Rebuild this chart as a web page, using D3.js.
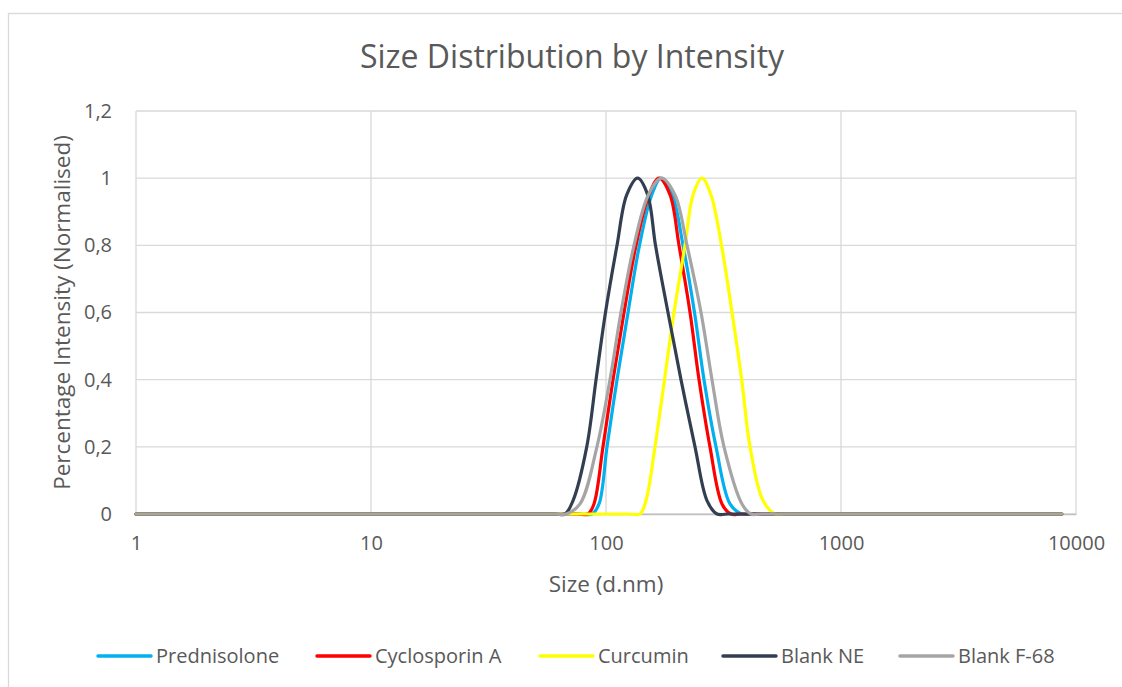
<!DOCTYPE html>
<html lang="en">
<head>
    <meta charset="UTF-8">
    <script src="https://d3js.org/d3.v7.min.js"></script>
    <title>Size Distribution by Intensity</title>
    <style>
        body { margin: 0; background: #fff; }
        text { font-family: "Open Sans", sans-serif; fill: #595959; }
    </style>
</head>
<body>
    <svg id="chart" width="1122" height="687"></svg>

    <script>
        // data: [size (d.nm), normalised intensity]
        const prednisolone = [[1,0],[78,0],[87.2,0],[93.4,0.03],[101,0.2],[111.4,0.4],[124.1,0.6],[138.8,0.8],[156.5,0.95],[171.4,1],
                              [191.5,0.95],[212.7,0.8],[238,0.6],[261.2,0.4],[293.9,0.2],[337.1,0.03],[379,0],[420,0],[8700,0]];
        const cyclosporinA = [[1,0],[75,0],[83.8,0],[88.9,0.03],[97.1,0.2],[107.1,0.4],[119.3,0.6],[134.2,0.8],[152.4,0.95],[168.1,1],
                              [187.3,0.95],[204.5,0.8],[227.8,0.6],[248.8,0.4],[277,0.2],[311.6,0.03],[340.4,0],[380,0],[8700,0]];
        const curcumin     = [[1,0],[125,0],[139.5,0],[148,0.04],[161.6,0.2],[177.4,0.4],[194.7,0.6],[216.9,0.8],[234.6,0.95],[256.2,1],
                              [279.8,0.95],[310.1,0.8],[343.8,0.6],[378,0.4],[410.1,0.2],[465.7,0.04],[523.8,0],[580,0],[8700,0]];
        const blankNE      = [[1,0],[60,0],[66.9,0],[72.4,0.04],[82.8,0.2],[90.7,0.4],[99.5,0.6],[111.4,0.8],[122.5,0.95],[136.4,1],
                              [150.5,0.95],[162.4,0.8],[183.6,0.6],[208.5,0.4],[239.2,0.2],[269,0.04],[296.8,0],[330,0],[8700,0]];
        const blankF68     = [[1,0],[60,0],[67.6,0],[77.5,0.03],[91.5,0.2],[104,0.4],[115.8,0.6],[131.6,0.8],[151.4,0.95],[172.3,1],
                              [196.6,0.95],[221.2,0.8],[253.7,0.6],[282.5,0.4],[317.8,0.2],[379,0.03],[414,0],[460,0],[8700,0]];

        const seriesNames  = ["Prednisolone", "Cyclosporin A", "Curcumin", "Blank NE", "Blank F-68"];
        const seriesColors = ["#00B0F0", "#FF0000", "#FFFF00", "#333F50", "#A5A5A5"];
        const seriesData   = [prednisolone, cyclosporinA, curcumin, blankNE, blankF68];

        const xTicks = [1, 10, 100, 1000, 10000];
        const yTicks = [0, 0.2, 0.4, 0.6, 0.8, 1, 1.2];

        const svg = d3.select("svg#chart");
        const margin = {top: 111, right: 46, bottom: 173, left: 136};
        const width = +svg.attr("width") - margin.left - margin.right;
        const height = +svg.attr("height") - margin.top - margin.bottom;

        // chart frame
        svg.append("rect")
            .attr("x", 8.5).attr("y", 13.5)
            .attr("width", 1130).attr("height", 700)
            .attr("fill", "#fff")
            .attr("stroke", "#d9d9d9")
            .attr("stroke-width", 1.3);

        const xScale = d3.scaleLog().domain([1, 10000]).range([0, width]);
        const yScale = d3.scaleLinear().domain([0, 1.2]).range([height, 0]);

        const commaFormat = d3.formatLocale({decimal: ",", thousands: "", grouping: [3], currency: ["", ""]}).format(".1~f");

        const plot = svg.append("g").attr("transform", "translate(" + margin.left + "," + margin.top + ")");

        // gridlines
        plot.append("g").selectAll("line.h")
            .data(yTicks)
            .join("line")
            .attr("x1", 0).attr("x2", width)
            .attr("y1", d => yScale(d)).attr("y2", d => yScale(d))
            .attr("stroke", "#d9d9d9").attr("stroke-width", 1.3);

        plot.append("g").selectAll("line.v")
            .data(xTicks)
            .join("line")
            .attr("x1", d => xScale(d)).attr("x2", d => xScale(d))
            .attr("y1", 0).attr("y2", height)
            .attr("stroke", "#d9d9d9").attr("stroke-width", 1.3);

        // axes
        const leftAxis = d3.axisLeft(yScale).tickValues(yTicks).tickSize(0).tickPadding(24).tickFormat(commaFormat);
        const yAxisG = plot.append("g").call(leftAxis);
        yAxisG.select(".domain").remove();
        yAxisG.selectAll("text").attr("font-size", 20).attr("fill", "#595959").attr("font-family", "Open Sans");

        const bottomAxis = d3.axisBottom(xScale).tickValues(xTicks).tickSize(0).tickPadding(22).tickFormat(d3.format("d"));
        const xAxisG = plot.append("g").attr("transform", "translate(0," + height + ")").call(bottomAxis);
        xAxisG.select(".domain").attr("stroke", "#bfbfbf").attr("stroke-width", 1.3);
        xAxisG.selectAll("text").attr("font-size", 20).attr("fill", "#595959").attr("font-family", "Open Sans");

        // series
        const lineGen = d3.line()
            .x(d => xScale(d[0]))
            .y(d => yScale(d[1]))
            .curve(d3.curveCatmullRom.alpha(0.5));

        plot.append("g").selectAll("path")
            .data(seriesData)
            .join("path")
            .attr("fill", "none")
            .attr("stroke", (d, i) => seriesColors[i])
            .attr("stroke-width", 3.2)
            .attr("stroke-linejoin", "round")
            .attr("stroke-linecap", "round")
            .attr("d", lineGen);

        // titles
        svg.append("text")
            .attr("x", 572).attr("y", 68)
            .attr("text-anchor", "middle")
            .attr("font-size", 32)
            .text("Size Distribution by Intensity");

        svg.append("text")
            .attr("x", margin.left + width / 2).attr("y", 592)
            .attr("text-anchor", "middle")
            .attr("font-size", 22.5)
            .text("Size (d.nm)");

        svg.append("text")
            .attr("transform", "translate(70," + (margin.top + height / 2) + ") rotate(-90)")
            .attr("text-anchor", "middle")
            .attr("font-size", 22.5)
            .text("Percentage Intensity (Normalised)");

        // legend
        const legendX = [98, 317, 540, 723, 900];
        const legend = svg.append("g").selectAll("g")
            .data(seriesNames)
            .join("g")
            .attr("transform", (d, i) => "translate(" + legendX[i] + ",656)");

        legend.append("line")
            .attr("x1", 0).attr("x2", 53)
            .attr("stroke", (d, i) => seriesColors[i])
            .attr("stroke-width", 3.5)
            .attr("stroke-linecap", "round");

        legend.append("text")
            .attr("x", 58).attr("y", 7)
            .attr("font-size", 20)
            .text(d => d);
    </script>
</body>
</html>
